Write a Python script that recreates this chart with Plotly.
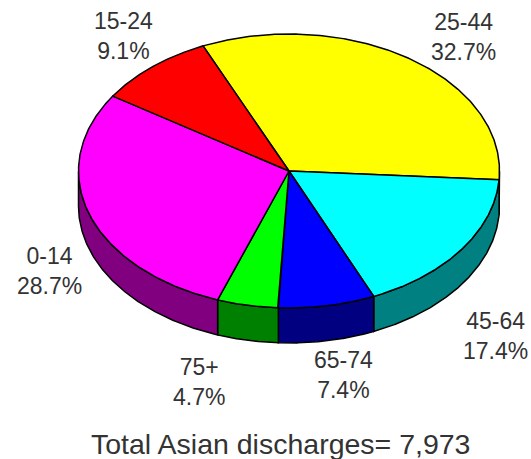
import numpy as np
import plotly.graph_objects as go

labels = ["25-44", "45-64", "65-74", "75+", "0-14", "15-24"]
shares = [32.7, 17.4, 7.4, 4.7, 28.7, 9.1]
top_colors = ["#ffff00", "#00ffff", "#0000ff", "#00ff00", "#ff00ff", "#ff0000"]
side_colors = ["#808000", "#008080", "#000080", "#008000", "#800080", "#800000"]
label_xy = [(463, 37), (495, 336), (343, 375), (199, 382), (49, 271), (123, 36)]
caption = "Total Asian discharges= 7,973"

CX, CY, RX, RY, DEPTH = 289, 171, 210.5, 137, 35
START_DEG = 114.1


def edge(a):
    return CX + RX * np.cos(a), CY - RY * np.sin(a)


fig = go.Figure()
fractions = np.array(shares) / sum(shares)
ends = np.radians(START_DEG) - 2 * np.pi * np.cumsum(fractions)
starts = np.concatenate([[np.radians(START_DEG)], ends[:-1]])

for a0, a1, col in zip(starts, ends, side_colors):
    angles = np.linspace(a0, a1, 200)
    front = angles[np.sin(angles) <= 0]
    if len(front) < 2:
        continue
    x, y = edge(front)
    fig.add_trace(go.Scatter(
        x=np.concatenate([x, x[::-1], x[:1]]),
        y=np.concatenate([y, y[::-1] + DEPTH, y[:1]]),
        mode="lines", fill="toself", fillcolor=col,
        line=dict(color="black", width=1.5), hoverinfo="skip"))

for a0, a1, col in zip(starts, ends, top_colors):
    x, y = edge(np.linspace(a0, a1, 200))
    fig.add_trace(go.Scatter(
        x=np.concatenate([[CX], x, [CX]]),
        y=np.concatenate([[CY], y, [CY]]),
        mode="lines", fill="toself", fillcolor=col,
        line=dict(color="black", width=1.5), hoverinfo="skip"))

font = dict(family="Liberation Sans", size=23, color="#333333")
for name, share, (lx, ly) in zip(labels, shares, label_xy):
    fig.add_annotation(x=lx, y=ly, text=f"{name}<br>{share}%", showarrow=False, font=font)
fig.add_annotation(x=280, y=444, text=caption, showarrow=False,
                   font=dict(family="Liberation Sans", size=28.5, color="#333333"))

fig.update_layout(
    width=531, height=459, margin=dict(l=0, r=0, t=0, b=0), showlegend=False,
    paper_bgcolor="white", plot_bgcolor="white",
    xaxis=dict(range=[0, 531], visible=False),
    yaxis=dict(range=[459, 0], visible=False),
)
fig.write_html("out.html", config=dict(displayModeBar=False),
               post_script="document.body.style.margin='0';document.body.style.overflow='hidden';")
